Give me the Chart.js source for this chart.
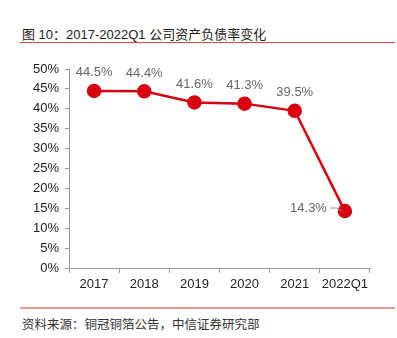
<!DOCTYPE html>
<html>
<head>
<meta charset="utf-8">
<script src="https://cdn.jsdelivr.net/npm/chart.js@4/dist/chart.umd.min.js"></script>
<style>
  body { margin: 0; background: #fff; width: 397px; height: 338px; position: relative; overflow: hidden;
         font-family: "Liberation Sans", "Noto Sans CJK SC", sans-serif; }
  #title { position: absolute; left: 22px; top: 24px; font-size: 13px; color: #222; }
  #title-line { position: absolute; left: 20px; top: 42px; width: 375px; height: 1px; background: #d9463c; }
  #foot-line { position: absolute; left: 20px; top: 307px; width: 375px; height: 2px; background: #e89a98; }
  #source { position: absolute; left: 22px; top: 314px; font-size: 12.5px; color: #333; }
  #wrap { position: absolute; left: 0; top: 50px; width: 397px; height: 250px; }
</style>
</head>
<body>
<div id="title">图 10：2017-2022Q1 公司资产负债率变化</div>
<div id="title-line"></div>
<div id="wrap"><canvas id="chart"></canvas></div>
<div id="foot-line"></div>
<div id="source">资料来源：铜冠铜箔公告，中信证券研究部</div>
<script>
const categories = ['2017', '2018', '2019', '2020', '2021', '2022Q1'];
const debtRatio = [44.5, 44.4, 41.6, 41.3, 39.5, 14.3];
const yTicks = [0, 5, 10, 15, 20, 25, 30, 35, 40, 45, 50];

const red = '#d7000f';
const axisGray = '#999';

const valueLabels = {
    id: 'valueLabels',
    afterDatasetsDraw(chart) {
        const ctx = chart.ctx;
        const meta = chart.getDatasetMeta(0);
        ctx.save();
        ctx.font = '13px "Liberation Sans", sans-serif';
        ctx.fillStyle = '#666';
        ctx.textBaseline = 'middle';
        meta.data.forEach((pt, i) => {
            const txt = debtRatio[i].toFixed(1) + '%';
            if (i === debtRatio.length - 1) {
                ctx.textAlign = 'right';
                ctx.fillText(txt, pt.x - 18, pt.y - 3);
                ctx.strokeStyle = '#999';
                ctx.lineWidth = 1;
                ctx.beginPath();
                ctx.moveTo(pt.x - 15, pt.y - 3);
                ctx.lineTo(pt.x - 8, pt.y - 3);
                ctx.lineTo(pt.x - 3, pt.y);
                ctx.stroke();
            } else {
                ctx.textAlign = 'center';
                ctx.fillText(txt, pt.x, pt.y - 18);
            }
        });
        ctx.restore();
    }
};

new Chart(document.getElementById('chart'), {
    type: 'line',
    data: {
        labels: categories,
        datasets: [{
            data: debtRatio,
            borderColor: red,
            backgroundColor: red,
            borderWidth: 2.5,
            pointRadius: 6,
            pointBackgroundColor: red,
            pointBorderColor: red,
            tension: 0
        }]
    },
    options: {
        responsive: true,
        maintainAspectRatio: false,
        animation: false,
        events: [],
        layout: { padding: { top: 19, right: 27, left: 0, bottom: 0 } },
        plugins: { legend: { display: false }, tooltip: { enabled: false } },
        scales: {
            x: {
                offset: true,
                grid: { display: true, drawOnChartArea: false, offset: true, tickLength: 5, color: axisGray },
                border: { color: axisGray },
                ticks: {
                    color: '#222',
                    font: { size: 13, family: '"Liberation Sans", sans-serif' },
                    padding: 4,
                    maxRotation: 0,
                    minRotation: 0,
                    autoSkip: false
                },
                afterFit(scale) { scale.height = 32; }
            },
            y: {
                min: 0,
                max: 50,
                afterBuildTicks(scale) { scale.ticks = yTicks.map(v => ({ value: v })); },
                grid: { display: true, drawOnChartArea: false, tickLength: 4, color: axisGray },
                border: { color: axisGray },
                ticks: {
                    color: '#222',
                    font: { size: 13, family: '"Liberation Sans", sans-serif' },
                    padding: 6,
                    callback: v => v + '%'
                },
                afterFit(scale) { scale.width = 69; }
            }
        }
    },
    plugins: [valueLabels]
});
</script>
</body>
</html>
